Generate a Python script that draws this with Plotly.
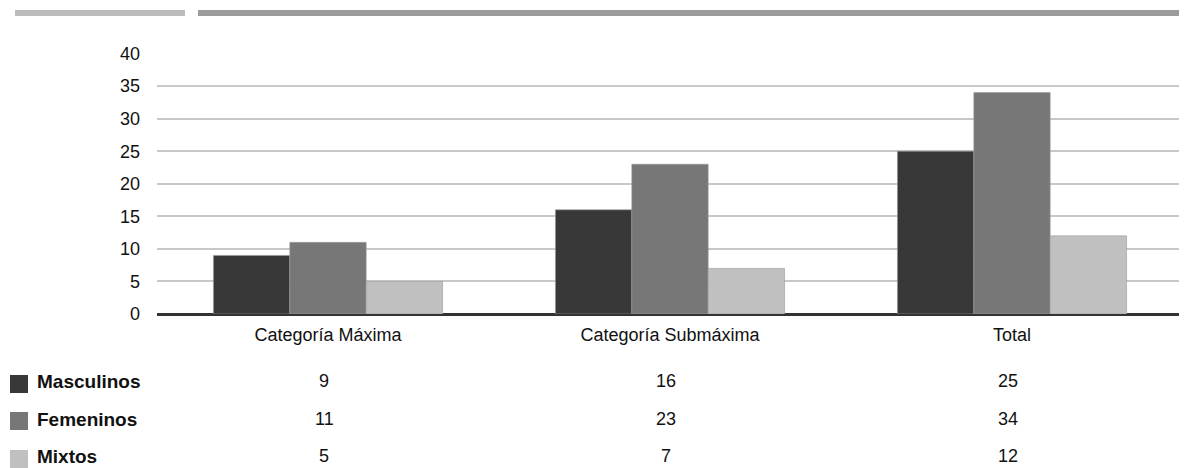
import plotly.graph_objects as go

categories = ["Categoría Máxima", "Categoría Submáxima", "Total"]
series_names = ["Masculinos", "Femeninos", "Mixtos"]
masculinos = [9, 16, 25]
femeninos = [11, 23, 34]
mixtos = [5, 7, 12]
series_values = [masculinos, femeninos, mixtos]
colors = ["#383838", "#777777", "#c0c0c0"]
y_ticks = [0, 5, 10, 15, 20, 25, 30, 35, 40]

# page geometry (browser body has an 8px margin)
OFF = 8
W, H = 1187, 468
ML, MR, MT, MB = 157, 4, 53, 154
PW = W - ML - MR
PH = H - MT - MB

def px_to_paper_x(px):
    return (px - ML) / PW

def py_to_paper_y(py):
    return (H - MB - py) / PH

fig = go.Figure()
for name, vals, col in zip(series_names, series_values, colors):
    fig.add_trace(go.Bar(
        x=categories, y=vals, name=name,
        marker=dict(color=col, line=dict(color="#9a9a9a", width=0.6)),
        showlegend=False,
    ))

font = "Liberation Sans, Arial, sans-serif"
annotations = []
shapes = []
row_y = [381, 419, 456]
sq_y = [384, 421, 459]
for i, (name, vals, col) in enumerate(zip(series_names, series_values, colors)):
    yp = py_to_paper_y(row_y[i])
    shapes.append(dict(type="rect", xref="paper", yref="paper",
                       x0=px_to_paper_x(10), x1=px_to_paper_x(28),
                       y0=py_to_paper_y(sq_y[i] + 9), y1=py_to_paper_y(sq_y[i] - 9),
                       fillcolor=col, line=dict(width=0)))
    annotations.append(dict(xref="paper", yref="paper", x=px_to_paper_x(35), y=yp,
                            text="<b>%s</b>" % name, showarrow=False, xanchor="left",
                            yanchor="middle", font=dict(family=font, size=19, color="#111")))
    for c, v in zip(categories, vals):
        annotations.append(dict(xref="x", yref="paper", x=c, y=yp, text=str(v),
                                showarrow=False, xanchor="center", yanchor="middle",
                                xshift=-4,
                                font=dict(family=font, size=18, color="#111")))

shapes.append(dict(type="rect", xref="paper", yref="paper",
                   x0=px_to_paper_x(15), x1=px_to_paper_x(185),
                   y0=py_to_paper_y(16), y1=py_to_paper_y(10),
                   fillcolor="#bcbcbc", line=dict(width=0)))
shapes.append(dict(type="rect", xref="paper", yref="paper",
                   x0=px_to_paper_x(198), x1=px_to_paper_x(1187),
                   y0=py_to_paper_y(16), y1=py_to_paper_y(10),
                   fillcolor="#9c9c9c", line=dict(width=0)))

fig.update_layout(
    width=W - OFF, height=H - OFF,
    margin=dict(l=ML - OFF, r=MR, t=MT - OFF, b=MB),
    paper_bgcolor="white", plot_bgcolor="white",
    barmode="group", bargap=0.33, bargroupgap=0,
    font=dict(family=font, size=18, color="#111"),
    shapes=shapes, annotations=annotations,
    xaxis=dict(showgrid=False, showline=False, ticks="", tickfont=dict(size=18),
               ticklabelstandoff=8),
    yaxis=dict(range=[0, 40.08], tickvals=y_ticks, showgrid=True, gridcolor="#c8c8c8",
               gridwidth=1.5, zeroline=True, zerolinecolor="#333333", zerolinewidth=3,
               ticks="", ticklabelstandoff=16, tickfont=dict(size=18)),
)

fig.write_html("out.html")
